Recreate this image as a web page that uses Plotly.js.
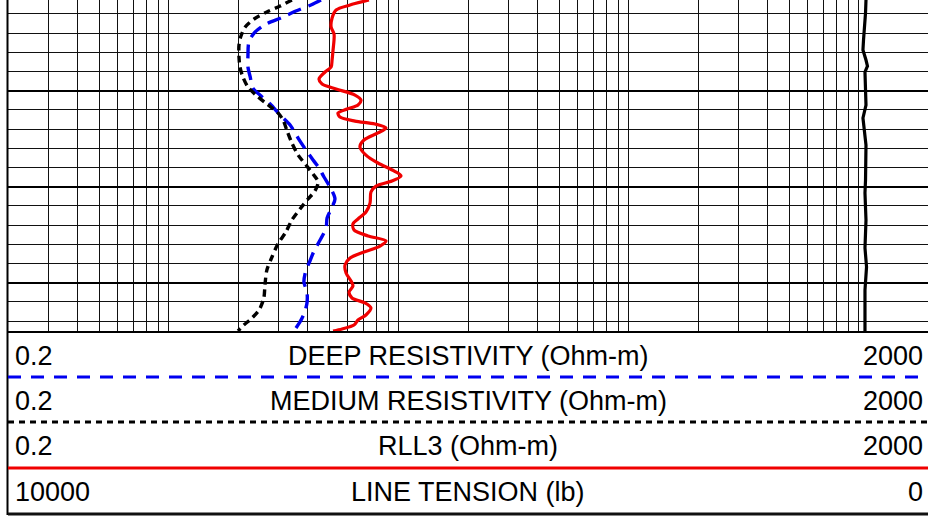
<!DOCTYPE html>
<html>
<head>
<meta charset="utf-8">
<script src="https://cdn.plot.ly/plotly-3.0.1.min.js"></script>
<style>html,body{margin:0;padding:0;background:#fff;}#chart{width:928px;height:517px;}</style>
</head>
<body>
<div id="chart"></div>
<script>
// ---- Data ----
const depthRLL3 = [990.55,991.07,991.59,992.42,993.36,994.09,994.72,995.76,996.80,997.53,998.05,998.78,999.30,999.82,1000.45,1000.97,1001.49,1001.90,1002.32,1002.74,1003.16,1003.47,1003.88,1004.40,1005.13,1005.86,1006.70,1007.53,1008.36,1008.88,1009.40,1009.93,1010.55,1011.70,1012.63,1013.36,1013.88,1014.51,1015.13,1015.65,1016.18,1016.80,1017.43,1018.15,1018.99,1019.82,1020.34,1020.97,1021.59,1022.11,1022.63,1023.36,1023.88,1024.41,1024.82,1025.03];
const rll3 = [7.42,6.14,5.34,5.13,5.08,5.23,5.23,5.18,5.13,5.08,4.78,4.50,4.64,5.34,6.45,6.85,6.65,5.96,5.44,5.55,6.45,7.88,8.80,8.12,7.06,6.78,7.20,8.12,9.53,10.23,9.34,7.96,7.57,7.50,7.20,6.65,6.32,6.39,7.35,8.80,8.29,7.06,6.14,5.84,5.90,6.20,6.32,6.08,6.26,7.13,7.57,7.20,6.65,6.39,5.67,5.18];

const depthMedium = [990.55,991.18,991.80,992.53,993.36,994.30,995.24,996.49,997.53,998.57,999.61,1000.55,1001.38,1002.22,1003.05,1004.20,1005.45,1006.70,1007.74,1008.68,1009.51,1010.45,1011.28,1012.32,1013.47,1014.72,1015.97,1017.32,1018.68,1020.24,1021.59,1022.84,1023.68,1024.41,1025.03];
const mediumRes = [3.43,3.05,2.67,2.35,2.15,2.06,2.02,2.02,2.04,2.10,2.21,2.42,2.67,2.96,3.14,3.27,3.43,3.65,3.95,4.24,4.46,4.32,4.03,3.72,3.43,3.23,2.98,2.81,2.67,2.62,2.59,2.47,2.30,2.12,2.00];

const depthDeep = [990.55,991.07,991.70,992.42,993.05,993.99,994.93,996.28,997.53,998.57,999.72,1000.55,1001.38,1002.53,1003.57,1004.93,1006.18,1007.22,1008.05,1008.99,1010.24,1011.28,1012.32,1013.26,1014.30,1015.55,1016.70,1017.74,1018.68,1019.93,1020.97,1022.11,1023.26,1024.09,1024.72,1025.03];
const deepRes = [4.59,4.15,3.57,3.08,2.65,2.35,2.23,2.21,2.21,2.26,2.32,2.52,2.76,3.05,3.37,3.65,3.95,4.24,4.50,4.73,5.08,5.28,5.08,4.88,4.83,4.55,4.28,4.11,3.95,3.87,3.99,3.99,3.87,3.72,3.57,3.50];

const depthTension = [990.55,991.90,994.72,995.76,996.80,997.43,998.05,1001.49,1002.84,1005.65,1009.30,1010.65,1013.47,1014.51,1016.38,1018.36,1020.76,1025.03];
const lineTension = [674,679,701,707,674,658,685,674,707,674,679,685,674,679,685,668,685,685];

const headerLabels = ["DEEP RESISTIVITY (Ohm-m)", "MEDIUM RESISTIVITY (Ohm-m)", "RLL3 (Ohm-m)", "LINE TENSION (lb)"];
const headerLeft = ["0.2", "0.2", "0.2", "10000"];
const headerRight = ["2000", "2000", "2000", "0"];

// ---- Geometry helpers (pixel -> paper) ----
const W = 928, H = 517;
const px = v => v / W;
const py = v => 1 - v / H;
const plotLeft = 8, plotBottom = 332;
const rowTops = [332, 377, 422, 468];
const rowBottoms = [377, 422, 468, 514];
const rowStyles = [
  {color: '#0000f0', width: 3, dash: '13px,10px'},
  {color: '#000000', width: 3, dash: '6px,5px'},
  {color: '#f00000', width: 3, dash: 'solid'},
  {color: '#111111', width: 3, dash: 'solid'}
];

const traces = [
  {x: deepRes, y: depthDeep, type: 'scatter', mode: 'lines', xaxis: 'x', yaxis: 'y',
   line: {color: '#0000f0', width: 3.4, dash: '14px,8px', shape: 'spline', smoothing: 0.8}, name: headerLabels[0]},
  {x: mediumRes, y: depthMedium, type: 'scatter', mode: 'lines', xaxis: 'x', yaxis: 'y',
   line: {color: '#000000', width: 3.4, dash: '7px,5px', shape: 'spline', smoothing: 0.8}, name: headerLabels[1]},
  {x: rll3, y: depthRLL3, type: 'scatter', mode: 'lines', xaxis: 'x', yaxis: 'y',
   line: {color: '#f00000', width: 3.2, shape: 'spline', smoothing: 0.8}, name: headerLabels[2]},
  {x: lineTension, y: depthTension, type: 'scatter', mode: 'lines', xaxis: 'x2', yaxis: 'y',
   line: {color: '#000000', width: 3.2}, name: headerLabels[3]}
];

const shapes = [];
// left border (plot + header)
shapes.push({type: 'line', xref: 'paper', yref: 'paper', x0: px(7.5), x1: px(7.5), y0: py(0), y1: py(515),
  line: {color: '#000', width: 2}});
// plot bottom line
shapes.push({type: 'line', xref: 'paper', yref: 'paper', x0: px(7), x1: 1, y0: py(plotBottom), y1: py(plotBottom),
  line: {color: '#000', width: 2}});
// header row separators styled like each curve
rowBottoms.forEach((yb, i) => {
  shapes.push({type: 'line', xref: 'paper', yref: 'paper', x0: px(plotLeft), x1: 1, y0: py(yb), y1: py(yb),
    line: rowStyles[i]});
});

const annotations = [];
const fnt = {family: 'Liberation Sans, Arial, sans-serif', size: 27, color: '#000'};
headerLabels.forEach((lab, i) => {
  const yc = py((rowTops[i] + rowBottoms[i]) / 2 + 1);
  annotations.push({xref: 'paper', yref: 'paper', x: px(13), y: yc, xanchor: 'left', yanchor: 'middle', text: headerLeft[i], showarrow: false, font: fnt});
  annotations.push({xref: 'paper', yref: 'paper', x: px(468), y: yc, xanchor: 'center', yanchor: 'middle', text: lab, showarrow: false, font: fnt});
  annotations.push({xref: 'paper', yref: 'paper', x: px(925), y: yc, xanchor: 'right', yanchor: 'middle', text: headerRight[i], showarrow: false, font: fnt});
});

const layout = {
  width: W, height: H,
  margin: {l: 0, r: 0, t: 0, b: 0, pad: 0},
  paper_bgcolor: '#fff', plot_bgcolor: '#fff',
  showlegend: false,
  xaxis: {type: 'log', range: [Math.log10(0.2), Math.log10(2000)], domain: [px(plotLeft), 1],
    dtick: 'D1', showticklabels: false, ticks: '', showgrid: true, gridcolor: '#111', gridwidth: 1,
    zeroline: false, showline: false, fixedrange: true, anchor: 'y'},
  xaxis2: {range: [10000, 0], overlaying: 'x', domain: [px(plotLeft), 1], anchor: 'y', visible: false,
    showgrid: false, zeroline: false, fixedrange: true},
  yaxis: {range: [990.55 + plotBottom / 9.6, 990.55], domain: [py(plotBottom), 1],
    tick0: 1000, dtick: 10, showgrid: true, gridcolor: '#000', gridwidth: 2,
    minor: {tick0: 1000, dtick: 2, showgrid: true, gridcolor: '#111', gridwidth: 1},
    showticklabels: false, ticks: '', zeroline: false, showline: false, fixedrange: true},
  shapes: shapes,
  annotations: annotations,
  font: fnt
};

Plotly.newPlot('chart', traces, layout, {staticPlot: true, displayModeBar: false});
</script>
</body>
</html>
